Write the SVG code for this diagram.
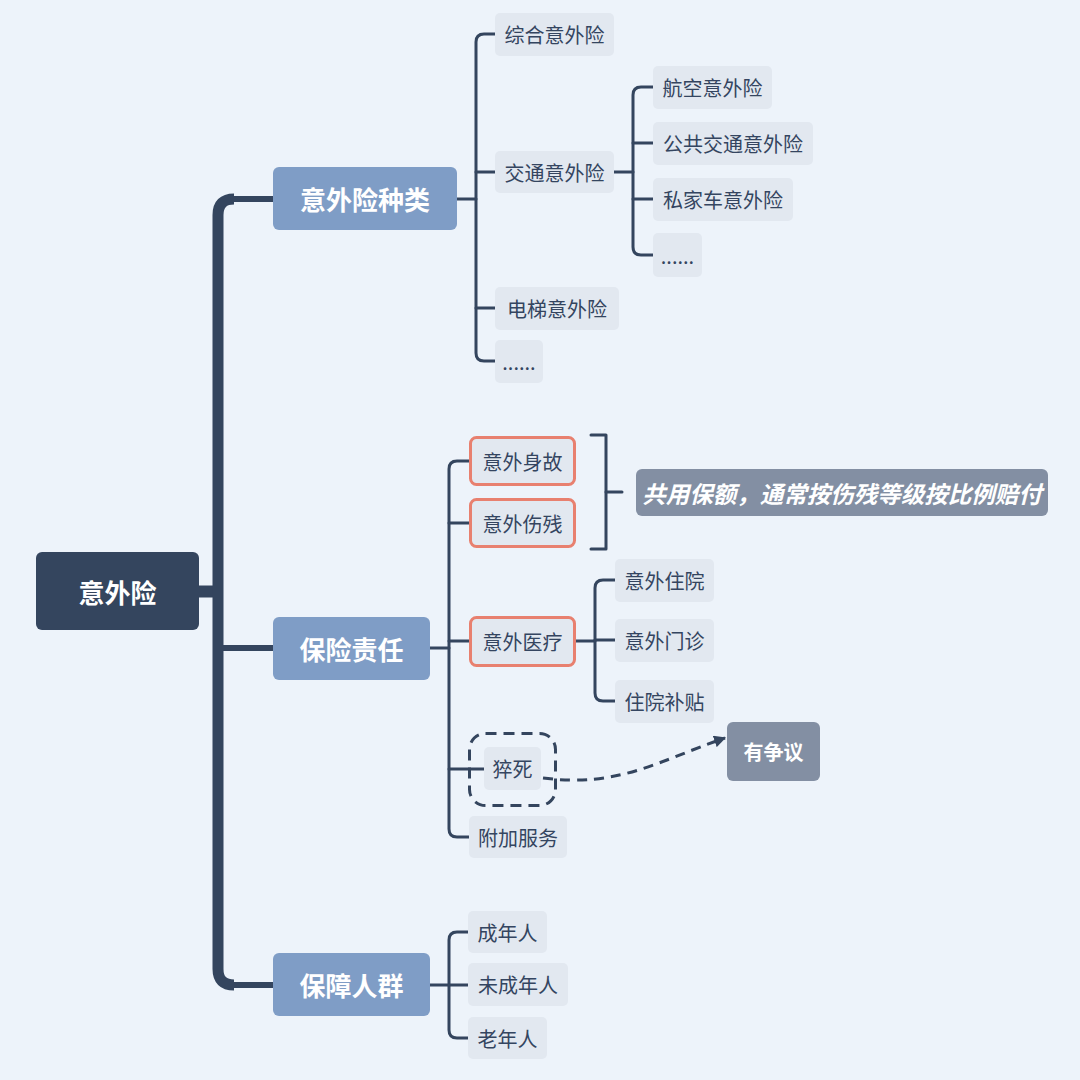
<svg xmlns="http://www.w3.org/2000/svg" width="1080" height="1080" viewBox="0 0 1080 1080">
<defs>
<style>
text{font-family:"Noto Sans CJK SC","Noto Sans",sans-serif;dominant-baseline:central;text-anchor:middle}
.root{fill:#34455e}
.main{fill:#7f9dc6}
.mt{fill:#fff;font-size:26px;font-weight:bold}
.child{fill:#e2e8f0}
.ct{fill:#344560;font-size:20px}
.hl{fill:#e2e8f0;stroke:#e8806f;stroke-width:3}
.note{fill:#838fa3}
.ln{fill:none;stroke:#34455e;stroke-width:3;stroke-linecap:round;stroke-linejoin:round}
.trunk{fill:none;stroke:#34455e;stroke-linecap:butt}
</style>
<marker id="ah" viewBox="0 0 10 10" refX="9" refY="5" markerWidth="4" markerHeight="4" orient="auto">
<path d="M0,0 L10,5 L0,10 z" fill="#34455e"/>
</marker>
</defs>
<rect width="1080" height="1080" fill="#edf3fa"/>

<g id="connectors">
<!-- trunk -->
<path class="trunk" d="M199 591.5 H218" stroke-width="12"/>
<path class="trunk" d="M234 199 Q218 199 218 215 V969 Q218 985 234 985" stroke-width="11"/>
<path class="trunk" d="M232 199 H273" stroke-width="6"/>
<path class="trunk" d="M232 985 H273" stroke-width="6"/>
<path class="trunk" d="M218 648 H273" stroke-width="6"/>
<!-- 意外险种类 -->
<path class="ln" d="M457 199 H476"/>
<path class="ln" d="M495 34 H484 Q476 34 476 42 V353 Q476 361 484 361 H495"/>
<path class="ln" d="M476 172 H495 M476 308 H495"/>
<!-- 交通意外险 -->
<path class="ln" d="M614 172 H633"/>
<path class="ln" d="M653 87 H641 Q633 87 633 95 V247 Q633 255 641 255 H653"/>
<path class="ln" d="M633 143 H653 M633 199 H653"/>
<!-- 保险责任 -->
<path class="ln" d="M430 648 H449"/>
<path class="ln" d="M469 461 H457 Q449 461 449 469 V829 Q449 837 457 837 H469"/>
<path class="ln" d="M449 523 H469 M449 641 H469 M449 769 H484"/>
<!-- 意外医疗 -->
<path class="ln" d="M575 641 H595"/>
<path class="ln" d="M615 580 H603 Q595 580 595 588 V693 Q595 701 603 701 H615"/>
<path class="ln" d="M595 640 H615"/>
<!-- 保障人群 -->
<path class="ln" d="M430 985 H449"/>
<path class="ln" d="M468 932 H457 Q449 932 449 940 V1030 Q449 1038 457 1038 H468"/>
<path class="ln" d="M449 985 H468"/>
<!-- bracket -->
<path class="ln" d="M591 435 H606 V549 H591" stroke-linecap="butt"/>
<path class="ln" d="M606 492 H622"/>
<!-- dashed relation -->
<path d="M543 778 C620 788 660 760 725 738" fill="none" stroke="#34455e" stroke-width="3" stroke-dasharray="10 7" marker-end="url(#ah)"/>
</g>

<g id="root"><rect class="root" x="36" y="552" width="163" height="78" rx="6"/><text class="mt" x="117.5" y="591">意外险</text></g>

<g id="n-types"><rect class="main" x="273" y="167" width="184" height="63" rx="6"/><text class="mt" x="365" y="198.5">意外险种类</text></g>
<g id="n-duty"><rect class="main" x="273" y="617" width="157" height="63" rx="6"/><text class="mt" x="351.5" y="648.5">保险责任</text></g>
<g id="n-people"><rect class="main" x="273" y="953" width="157" height="63" rx="6"/><text class="mt" x="351.5" y="984.5">保障人群</text></g>

<g id="n-zonghe"><rect class="child" x="495" y="13" width="119" height="43" rx="5"/><text class="ct" x="554.5" y="34.5">综合意外险</text></g>
<g id="n-jiaotong"><rect class="child" x="495" y="151" width="119" height="42" rx="5"/><text class="ct" x="554.5" y="172">交通意外险</text></g>
<g id="n-dianti"><rect class="child" x="495" y="287" width="124" height="43" rx="5"/><text class="ct" x="557" y="308.5">电梯意外险</text></g>
<g id="n-etc1"><rect class="child" x="495" y="340" width="48" height="43" rx="5"/><text class="ct" x="519" y="361.5">......</text></g>

<g id="n-hangkong"><rect class="child" x="653" y="66" width="119" height="43" rx="5"/><text class="ct" x="712.5" y="87.5">航空意外险</text></g>
<g id="n-gonggong"><rect class="child" x="653" y="122" width="160" height="43" rx="5"/><text class="ct" x="733" y="143.5">公共交通意外险</text></g>
<g id="n-sijia"><rect class="child" x="653" y="178" width="140" height="43" rx="5"/><text class="ct" x="723" y="199.5">私家车意外险</text></g>
<g id="n-etc2"><rect class="child" x="653" y="233" width="49" height="44" rx="5"/><text class="ct" x="677.5" y="255">......</text></g>

<g id="n-shengu"><rect class="hl" x="470.5" y="437.5" width="104" height="47" rx="6"/><text class="ct" x="522.5" y="461">意外身故</text></g>
<g id="n-shangcan"><rect class="hl" x="470.5" y="499.5" width="104" height="47" rx="6"/><text class="ct" x="522.5" y="523">意外伤残</text></g>
<g id="n-yiliao"><rect class="hl" x="470.5" y="617.5" width="104" height="48" rx="6"/><text class="ct" x="522.5" y="641.5">意外医疗</text></g>
<g id="n-cusi"><rect x="469.5" y="733.5" width="86" height="72" rx="16" fill="none" stroke="#34455e" stroke-width="3" stroke-dasharray="11 7"/><rect class="child" x="484" y="747" width="57" height="43" rx="5"/><text class="ct" x="512.5" y="768.5">猝死</text></g>
<g id="n-fujia"><rect class="child" x="469" y="816" width="98" height="42" rx="5"/><text class="ct" x="518" y="837">附加服务</text></g>

<g id="n-zhuyuan"><rect class="child" x="615" y="559" width="99" height="43" rx="5"/><text class="ct" x="664.5" y="580.5">意外住院</text></g>
<g id="n-menzhen"><rect class="child" x="615" y="619" width="99" height="43" rx="5"/><text class="ct" x="664.5" y="640.5">意外门诊</text></g>
<g id="n-butie"><rect class="child" x="615" y="680" width="99" height="43" rx="5"/><text class="ct" x="664.5" y="701.5">住院补贴</text></g>

<g id="n-note"><rect class="note" x="636" y="469" width="412" height="47" rx="6"/><text x="842" y="492.5" fill="#fff" font-size="23.5" font-weight="bold" font-style="italic">共用保额，通常按伤残等级按比例赔付</text></g>
<g id="n-zhengyi"><rect class="note" x="727" y="722" width="93" height="59" rx="6"/><text x="773.5" y="751.5" fill="#fff" font-size="20" font-weight="bold">有争议</text></g>

<g id="n-adult"><rect class="child" x="468" y="911" width="79" height="42" rx="5"/><text class="ct" x="507.5" y="932">成年人</text></g>
<g id="n-minor"><rect class="child" x="468" y="963" width="100" height="43" rx="5"/><text class="ct" x="518" y="984.5">未成年人</text></g>
<g id="n-elder"><rect class="child" x="468" y="1017" width="79" height="42" rx="5"/><text class="ct" x="507.5" y="1038">老年人</text></g>
</svg>
